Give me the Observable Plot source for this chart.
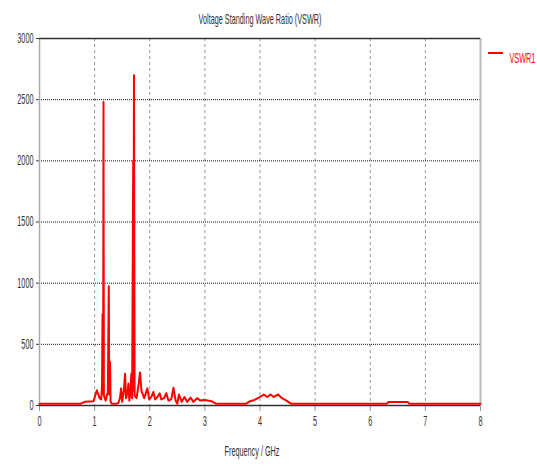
<!DOCTYPE html>
<html>
<head>
<meta charset="utf-8">
<script src="https://cdn.jsdelivr.net/npm/d3@7"></script>
<script src="https://cdn.jsdelivr.net/npm/@observablehq/plot@0.6"></script>
<style>
  html, body { margin: 0; padding: 0; background: #fff; }
  #chart { width: 537px; height: 468px; }
</style>
</head>
<body>
<div id="chart"></div>
<script>
// Frequency (GHz) and VSWR values
const freq = [0, 0.75, 0.82, 0.98, 1.04, 1.09, 1.12, 1.135, 1.143, 1.15, 1.155, 1.161, 1.168, 1.20, 1.24, 1.257, 1.265, 1.28, 1.29, 1.31,
  1.40, 1.43, 1.46, 1.48, 1.50, 1.53, 1.552, 1.57, 1.60, 1.613, 1.63, 1.65, 1.667, 1.68, 1.70, 1.705, 1.714, 1.725, 1.76, 1.80,
  1.823, 1.85, 1.90, 1.957, 1.99, 2.03, 2.065, 2.10, 2.14, 2.18, 2.21, 2.26, 2.30, 2.34, 2.39, 2.43, 2.47, 2.50, 2.53, 2.58,
  2.63, 2.68, 2.74, 2.79, 2.86, 2.92, 2.98, 3.05, 3.12, 3.20, 3.75, 3.82, 3.90, 3.98, 4.07, 4.13, 4.19, 4.25, 4.33, 4.40,
  4.48, 4.56, 6.30, 6.33, 6.68, 6.71, 8.0];
const vswr = [15, 15, 30, 35, 125, 60, 50, 180, 745, 100, 150, 2480, 80, 40, 110, 975, 90, 355, 30, 15,
  15, 20, 60, 140, 30, 120, 260, 60, 120, 180, 40, 110, 260, 60, 2000, 120, 2700, 80, 60, 180,
  270, 120, 60, 140, 50, 70, 110, 50, 70, 100, 50, 60, 100, 40, 50, 145, 40, 15, 90, 30,
  70, 30, 65, 30, 60, 40, 45, 40, 35, 15, 15, 35, 45, 65, 90, 70, 90, 70, 90, 60,
  40, 15, 15, 28, 28, 15, 15];
const xTicks = [0, 1, 2, 3, 4, 5, 6, 7, 8];
const yTicks = [0, 500, 1000, 1500, 2000, 2500, 3000];
const xGrid = [1, 2, 3, 4, 5, 6, 7];
const yGrid = [500, 1000, 1500, 2000, 2500];
const title = "Voltage Standing Wave Ratio (VSWR)";
const xLabel = "Frequency / GHz";
const seriesName = "VSWR1";

const data = freq.map((f, i) => ({f, v: vswr[i]}));
const FONT = "'Liberation Sans', Arial, sans-serif";
const fmt = d => String(d);

const chart = Plot.plot({
  width: 537,
  height: 468,
  marginLeft: 39,
  marginRight: 57,
  marginTop: 38,
  marginBottom: 63,
  style: {fontFamily: FONT, fontSize: "14px", color: "#333", background: "#fff", overflow: "visible"},
  x: {domain: [0, 8], label: null},
  y: {domain: [0, 3000], label: null},
  marks: [
    Plot.gridX(xGrid, {stroke: "#999", strokeOpacity: 1, strokeDasharray: "3,3"}),
    Plot.gridY(yGrid, {stroke: "#111", strokeOpacity: 1, strokeDasharray: "1,1"}),
    Plot.axisY(yTicks, {tickSize: 3, tickPadding: 3, stroke: "#333", fill: "#333", fontSize: 14, tickFormat: fmt}),
    Plot.axisX(xTicks, {tickSize: 6, tickPadding: 5, stroke: "#999", fill: "#333", fontSize: 14, tickFormat: fmt}),
    Plot.ruleX([0], {stroke: "#aaa", strokeWidth: 1.5}),
    Plot.ruleX([8], {stroke: "#bbb", strokeWidth: 2}),
    Plot.ruleY([0], {stroke: "#333", strokeWidth: 1.5}),
    Plot.ruleY([3000], {stroke: "#333", strokeWidth: 1.5}),
    Plot.line(data, {x: "f", y: "v", stroke: "#ff0000", strokeWidth: 2}),
    Plot.text([title], {frameAnchor: "top", dy: -24, fill: "#333", fontSize: 14}),
    Plot.text([xLabel], {frameAnchor: "bottom", dy: 50, dx: -8, fill: "#333", fontSize: 14}),
    Plot.text([seriesName], {frameAnchor: "top-right", dx: 29, dy: 15, textAnchor: "start", fill: "#ff0000", fontSize: 14})
  ]
});

document.getElementById("chart").appendChild(chart);

// legend swatch line
const svg = d3.select(chart);
svg.append("line")
  .attr("x1", 488).attr("x2", 503).attr("y1", 53).attr("y2", 53)
  .attr("stroke", "#ff0000").attr("stroke-width", 2);

// horizontally condense all texts around their anchor (reference uses a very narrow font)
const SX = 0.52;
svg.selectAll("text").each(function () {
  const t = d3.select(this);
  const xa = parseFloat(t.attr("x"));
  const xn = isFinite(xa) ? xa : 0;
  const tr = t.attr("transform") || "";
  t.attr("transform", `${tr} translate(${xn},0) scale(${SX},1) translate(${-xn},0)`.trim());
});
</script>
</body>
</html>
